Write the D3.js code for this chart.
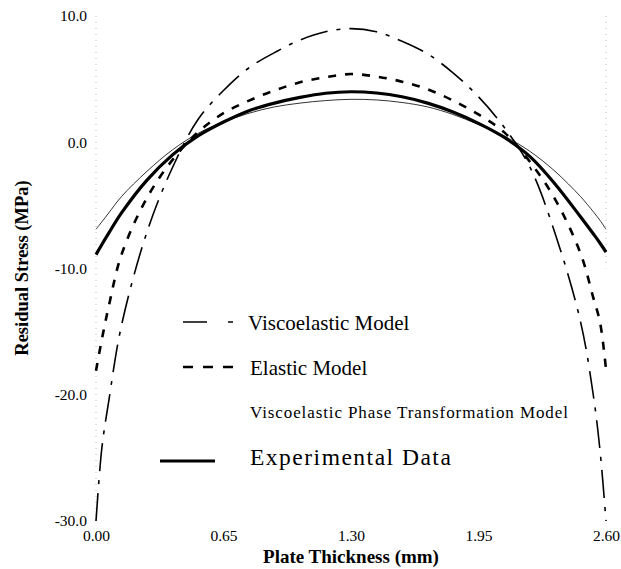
<!DOCTYPE html>
<html>
<head>
<meta charset="utf-8">
<script src="https://cdn.jsdelivr.net/npm/d3@7"></script>
<style>
  html, body { margin: 0; padding: 0; background: #fff; }
  svg { display: block; }
</style>
</head>
<body>
<svg id="chart" width="621" height="569"></svg>
<script>
// Plate thickness positions (mm) where each stress profile is sampled
const thickness = [0, 0.03, 0.065, 0.13, 0.26, 0.39, 0.52, 0.65, 0.78, 0.91, 1.04, 1.17, 1.30,
                   1.43, 1.56, 1.69, 1.82, 1.95, 2.08, 2.21, 2.34, 2.47, 2.535, 2.57, 2.60];

// Residual stress (MPa) for each model across the thickness
const viscoelastic = [-30.0, -24.2, -20.5, -14.5, -7.1, -2.0, 1.8, 4.1, 5.9, 7.1, 8.1, 8.75, 9.0,
                      8.75, 8.0, 7.0, 5.5, 3.6, 1.2, -1.9, -7.2, -14.2, -20.0, -24.5, -30.0];
const elastic      = [-18.1, -15.6, -13.0, -8.9, -4.4, -1.4, 0.8, 2.3, 3.3, 4.1, 4.75, 5.15, 5.4,
                      5.2, 4.8, 4.2, 3.3, 2.2, 0.8, -1.5, -4.5, -8.8, -12.3, -14.3, -18.0];
const phaseTransf  = [-6.9, -6.3, -5.6, -4.3, -2.3, -0.6, 0.7, 1.6, 2.3, 2.8, 3.1, 3.3, 3.4,
                      3.35, 3.15, 2.8, 2.2, 1.4, 0.5, -0.7, -2.3, -4.3, -5.5, -6.2, -6.9];
const experimental = [-8.9, -8.1, -7.2, -5.6, -3.0, -1.0, 0.5, 1.6, 2.5, 3.1, 3.55, 3.88, 4.0,
                      3.9, 3.6, 3.1, 2.4, 1.5, 0.4, -1.1, -3.3, -5.9, -7.25, -8.0, -8.7];

// Axis ticks
const xTicks = [0.00, 0.65, 1.30, 1.95, 2.60];
const yTicks = [10, 0, -10, -20, -30];

// Legend entries
const legendLabels = ["Viscoelastic Model", "Elastic Model",
                      "Viscoelastic Phase Transformation Model", "Experimental Data"];

const svg = d3.select("#chart");
const serif = "'Liberation Serif', 'Times New Roman', serif";

// Plain hyphen for negative numbers
const fmt1 = d => d3.format(".1f")(d).replace("\u2212", "-");
const fmt2 = d => d3.format(".2f")(d).replace("\u2212", "-");

const x = d3.scaleLinear().domain([0, 2.6]).range([96, 606]);
const y = d3.scaleLinear().domain([-30, 10]).range([521, 16]);

// Faint dotted frame edges
const frame = svg.append("g").attr("stroke", "#bbb").attr("stroke-width", 1)
  .attr("stroke-dasharray", "1,5").attr("fill", "none");
frame.append("line").attr("x1", x(0)).attr("x2", x(0)).attr("y1", y(10)).attr("y2", y(-30));
frame.append("line").attr("x1", x(2.6)).attr("x2", x(2.6)).attr("y1", y(10)).attr("y2", y(-10));

// Y axis (labels only)
const yAxis = d3.axisLeft(y).tickValues(yTicks).tickFormat(fmt1).tickSize(0).tickPadding(9);
svg.append("g").attr("transform", `translate(${x(0)},0)`).call(yAxis)
  .call(g => g.select(".domain").remove())
  .selectAll("text").attr("font-family", serif).attr("font-size", 15.5).attr("fill", "#000");

// X axis (labels only)
const xAxis = d3.axisBottom(x).tickValues(xTicks).tickFormat(fmt2).tickSize(0).tickPadding(9);
svg.append("g").attr("transform", `translate(0,${y(-30)})`).call(xAxis)
  .call(g => g.select(".domain").remove())
  .selectAll("text").attr("font-family", serif).attr("font-size", 15.5).attr("fill", "#000");

// Axis titles
svg.append("text").attr("x", 351).attr("y", 563).attr("text-anchor", "middle")
  .attr("font-family", serif).attr("font-weight", "bold").attr("font-size", 19)
  .text("Plate Thickness (mm)");
svg.append("text").attr("transform", "translate(28,268) rotate(-90)").attr("text-anchor", "middle")
  .attr("font-family", serif).attr("font-weight", "bold").attr("font-size", 18.5)
  .text("Residual Stress (MPa)");

// Curves
const series = [
  { values: viscoelastic, width: 1.6, dash: "28,9,4,9" },
  { values: elastic,      width: 2.6, dash: "8,9" },
  { values: phaseTransf,  width: 0.8, dash: null },
  { values: experimental, width: 3.2, dash: null }
];
const line = d3.line().x(d => x(d[0])).y(d => y(d[1])).curve(d3.curveCatmullRom.alpha(0.5));

svg.append("g").selectAll("path").data(series).join("path")
  .attr("d", s => line(thickness.map((t, i) => [t, s.values[i]])))
  .attr("fill", "none").attr("stroke", "#000")
  .attr("stroke-width", s => s.width)
  .attr("stroke-dasharray", s => s.dash);

// Legend
const legend = svg.append("g").attr("font-family", serif).attr("fill", "#000");
legend.append("line").attr("x1", 183).attr("x2", 207).attr("y1", 322).attr("y2", 322)
  .attr("stroke", "#000").attr("stroke-width", 1.5);
legend.append("line").attr("x1", 228).attr("x2", 233).attr("y1", 322).attr("y2", 322)
  .attr("stroke", "#000").attr("stroke-width", 1.5);
legend.append("line").attr("x1", 183).attr("x2", 233).attr("y1", 367).attr("y2", 367)
  .attr("stroke", "#000").attr("stroke-width", 2.5).attr("stroke-dasharray", "10,10");
legend.append("line").attr("x1", 160).attr("x2", 215).attr("y1", 461).attr("y2", 461)
  .attr("stroke", "#000").attr("stroke-width", 3.2);

const legendRows = [
  { label: legendLabels[0], x: 248, y: 330, size: 21, spacing: 0 },
  { label: legendLabels[1], x: 250, y: 375, size: 21, spacing: 0 },
  { label: legendLabels[2], x: 250, y: 418, size: 17, spacing: 0.9 },
  { label: legendLabels[3], x: 250, y: 465, size: 23.5, spacing: 1.5 }
];
legend.selectAll("text").data(legendRows).join("text")
  .attr("x", d => d.x).attr("y", d => d.y).attr("font-size", d => d.size)
  .attr("letter-spacing", d => d.spacing)
  .text(d => d.label);
</script>
</body>
</html>
